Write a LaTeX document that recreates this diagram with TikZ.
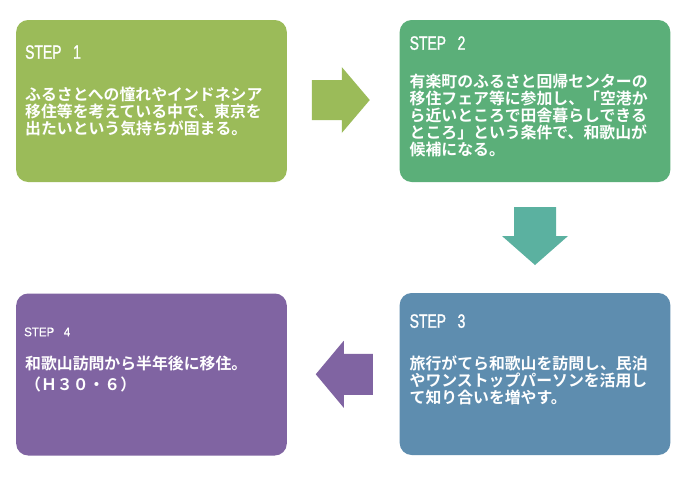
\documentclass[tikz,border=0pt]{standalone}
\usepackage{fontspec}
\usepackage{tikz}
\usetikzlibrary{positioning,calc}
\newfontfamily\jpfont{Noto Sans CJK JP}[BoldFont={Noto Sans CJK JP Bold}]
\newfontfamily\stepfont{Liberation Sans}[FakeStretch=0.72, FakeBold=1.2]
\newfontfamily\stepsmall{Liberation Sans}[FakeStretch=0.92, FakeBold=0.6]
\definecolor{olive}{HTML}{9BBB59}
\definecolor{leaf}{HTML}{5BAF79}
\definecolor{teal2}{HTML}{5BB1A0}
\definecolor{steel}{HTML}{5E8DAF}
\definecolor{violet2}{HTML}{8064A2}
\tikzset{
  stepbox/.style={rounded corners=9pt, minimum width=203pt, minimum height=121.5pt, inner sep=0pt},
  steptitle/.style={anchor=base west, inner sep=0pt, text=white, font=\stepfont\fontsize{14.5}{16}\selectfont},
  stepbody/.style={anchor=north west, inner sep=0pt, align=left, text=white, font=\jpfont\bfseries\fontsize{11.9}{12.75}\selectfont}
}
\begin{document}
\begin{tikzpicture}[x=0.75pt, y=-0.75pt]
    \useasboundingbox[fill=white] (0,0) rectangle (690,480);
    % boxes
    \node[stepbox, fill=olive] (s1) at (151.5,101) {};
    \node[stepbox, fill=leaf] (s2) at (535,101) {};
    \node[stepbox, fill=steel] (s3) at (535,374) {};
    \node[stepbox, fill=violet2] (s4) at (151.5,374.5) {};

    \node[steptitle] (t1) at ([shift={(9,39)}]s1.north west) {STEP~~~1};
    \node[steptitle] (t2) at ([shift={(10,30)}]s2.north west) {STEP~~~2};
    \node[steptitle] (t3) at ([shift={(10,35)}]s3.north west) {STEP~~~3};
    \node[steptitle, font=\stepsmall\fontsize{9.4}{11}\selectfont] (t4) at ([shift={(8,43)}]s4.north west) {STEP~~~4};

    \node[stepbody] (b1) at ([shift={(9,67)}]s1.north west) {ふるさとへの憧れやインドネシア\\移住等を考えている中で、東京を\\出たいという気持ちが固まる。};
    \node[stepbody] (b2) at ([shift={(10,54)}]s2.north west) {有楽町のふるさと回帰センターの\\移住フェア等に参加し、「空港か\\ら近いところで田舎暮らしできる\\ところ」という条件で、和歌山が\\候補になる。};
    \node[stepbody] (b3) at ([shift={(10,63)}]s3.north west) {旅行がてら和歌山を訪問し、民泊\\やワンストップパーソンを活用し\\て知り合いを増やす。};
    \node[stepbody] (b4) at ([shift={(9,62)}]s4.north west) {和歌山訪問から半年後に移住。\\[3.4pt]（Ｈ３０・６）};

    % arrows between the steps
    \coordinate (a12) at ($(s1.east)!0.5!(s2.west)$);
    \coordinate (a23) at ($(s2.south)!0.5!(s3.north)$);
    \coordinate (a34) at ($(s3.west)!0.5!(s4.east)$);
    \fill[olive] ([shift={(-31.5,-21)}]a12) -- ++(30,0) -- ++(0,-13) -- ++(28,33) -- ++(-28,33) -- ++(0,-13) -- ++(-30,0) -- cycle;
    \fill[teal2] ([shift={(-21,-30.5)}]a23) -- ++(42,0) -- ++(0,29) -- ++(12,0) -- ++(-33,29) -- ++(-33,-29) -- ++(12,0) -- cycle;
    \fill[violet2] ([shift={(29.5,-20.5)}]a34) -- ++(-29,0) -- ++(0,-13) -- ++(-28,33.5) -- ++(28,33.5) -- ++(0,-13) -- ++(29,0) -- cycle;
\end{tikzpicture}
\end{document}
